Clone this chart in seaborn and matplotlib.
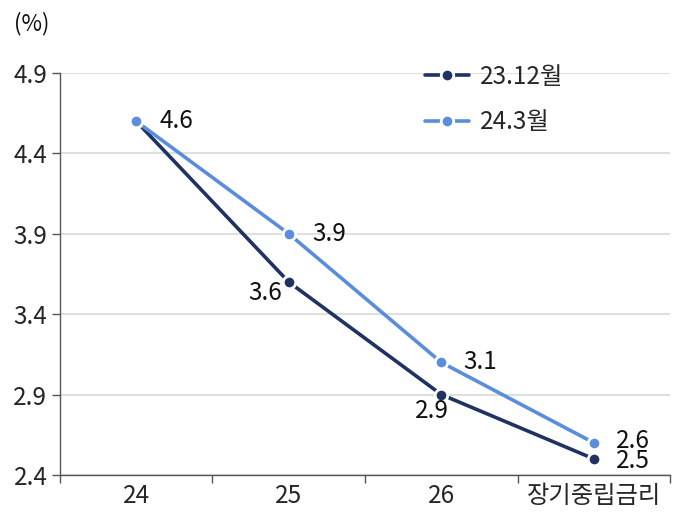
import matplotlib
matplotlib.use("Agg")
import matplotlib.pyplot as plt
import seaborn as sns
import pandas as pd
from matplotlib.ticker import FixedLocator

categories = ["24", "25", "26", "장기중립금리"]
series_names = ["23.12월", "24.3월"]
dec23 = [4.6, 3.6, 2.9, 2.5]
mar24 = [4.6, 3.9, 3.1, 2.6]
y_ticks = [2.4, 2.9, 3.4, 3.9, 4.4, 4.9]

sns.set_theme(style="white")
plt.rcParams['font.family'] = ['Noto Sans CJK KR', 'DejaVu Sans']

FS = 17.5
colors = {"23.12월": "#1f3262", "24.3월": "#5b8ddd"}

df = pd.DataFrame({
    "x": list(range(len(categories))) * 2,
    "value": dec23 + mar24,
    "series": [series_names[0]] * 4 + [series_names[1]] * 4,
})

fig = plt.figure(figsize=(6.81, 5.14), dpi=100)
ax = fig.add_axes([0.088, 0.076, 0.896, 0.782])

sns.lineplot(data=df, x="x", y="value", hue="series", palette=colors,
             marker="o", markersize=9, markeredgecolor="white", markeredgewidth=2,
             linewidth=2.6, ax=ax, legend=True)

ax.set_xlim(-0.5, 3.5)
ax.set_ylim(2.4, 4.9)
ax.set_yticks(y_ticks)
ax.set_yticklabels([f"{v:.1f}" for v in y_ticks], fontsize=FS)
ax.yaxis.grid(True, color="#d9d9d9", linewidth=1.2)
ax.set_axisbelow(True)

ax.xaxis.set_major_locator(FixedLocator([-0.5, 0.5, 1.5, 2.5, 3.5]))
ax.xaxis.set_minor_locator(FixedLocator([0, 1, 2, 3]))
ax.set_xticklabels([], minor=False)
ax.set_xticklabels(categories, minor=True, fontsize=FS)
ax.tick_params(axis="x", which="major", direction="out", length=6, width=1, color="#555555", bottom=True)
ax.tick_params(axis="x", which="minor", length=0, pad=6, bottom=True)
ax.tick_params(axis="y", direction="out", length=6, width=1, color="#555555", left=True, pad=3)
ax.set_xlabel("")
ax.set_ylabel("")

for side in ["top", "right"]:
    ax.spines[side].set_visible(False)
for side in ["left", "bottom"]:
    ax.spines[side].set_color("#555555")
    ax.spines[side].set_linewidth(1)

# data labels (offsets in points; positive dy = down)
offsets_dec = [None, (-17, 8), (-6.5, 12), (28, 1.5)]
offsets_mar = [(29, 0), (29, 0), (28, 0), (28, -1)]
for i, v in enumerate(mar24):
    dx, dy = offsets_mar[i]
    ax.annotate(f"{v:.1f}", (i, v), xytext=(dx, -dy), textcoords="offset points",
                ha="center", va="center", fontsize=FS, color="#111111")
for i, v in enumerate(dec23):
    if offsets_dec[i] is None:
        continue
    dx, dy = offsets_dec[i]
    ax.annotate(f"{v:.1f}", (i, v), xytext=(dx, -dy), textcoords="offset points",
                ha="center", va="center", fontsize=FS, color="#111111")

leg = ax.legend(loc="upper left", bbox_to_anchor=(0.598, 1.023), frameon=False,
                fontsize=FS, handlelength=1.8, handletextpad=0.45, labelspacing=0.8,
                borderaxespad=0, borderpad=0)
for h in leg.get_lines():
    h.set_linewidth(2.6)

fig.text(0.02, 0.955, "(%)", fontsize=16, ha="left", va="center", color="#111111")

fig.savefig("out.png", dpi=100)
